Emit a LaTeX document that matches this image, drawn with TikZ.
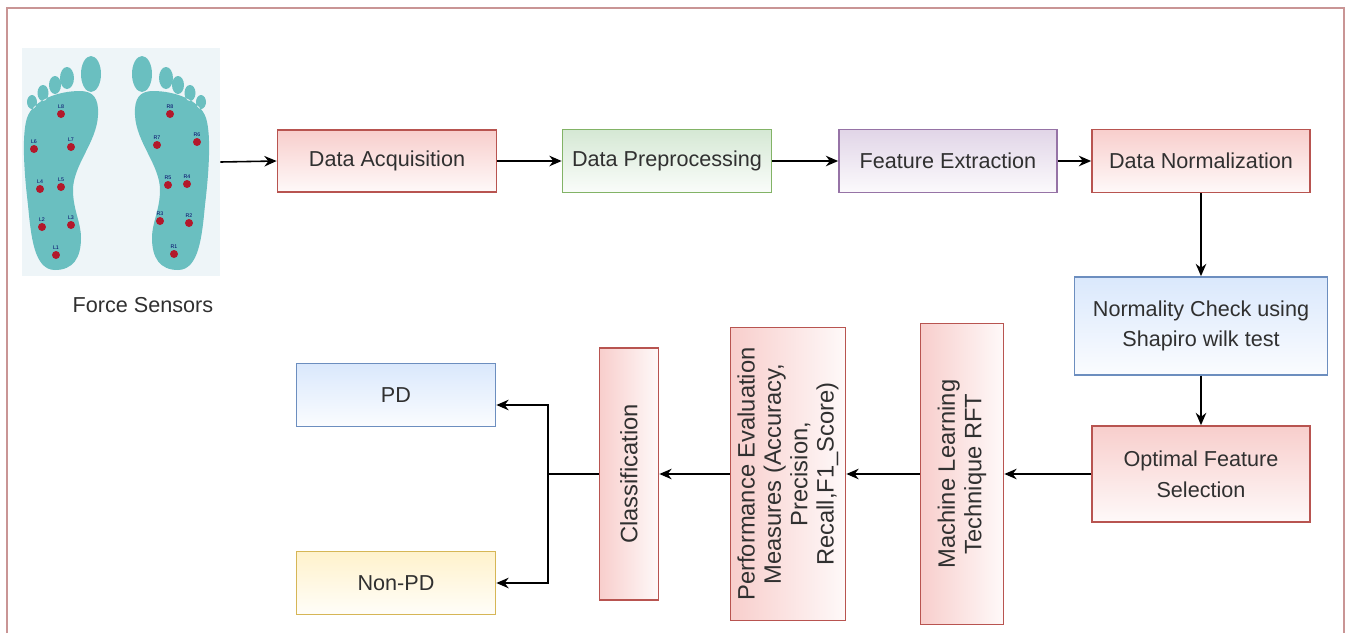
\documentclass[tikz,border=0pt]{standalone}
\usepackage{fontspec}
\setmainfont{Liberation Sans}
\usetikzlibrary{arrows.meta}

\definecolor{redfill}{HTML}{F8CECC}
\definecolor{redline}{HTML}{B85450}
\definecolor{greenfill}{HTML}{D5E8D4}
\definecolor{greenline}{HTML}{82B366}
\definecolor{purplefill}{HTML}{E1D5E7}
\definecolor{purpleline}{HTML}{9673A6}
\definecolor{bluefill}{HTML}{DAE8FC}
\definecolor{blueline}{HTML}{6C8EBF}
\definecolor{yellowfill}{HTML}{FFF2CC}
\definecolor{yellowline}{HTML}{D6B656}
\definecolor{footcol}{HTML}{6ABFC0}
\definecolor{sensorred}{HTML}{B3182B}
\definecolor{panelcol}{HTML}{EEF5F8}
\definecolor{framecol}{HTML}{C99595}
\definecolor{textgray}{HTML}{303030}

\tikzset{
  base/.style={draw=#1line, line width=1pt, align=center, text=textgray, inner sep=2pt},
  box/.style={base=#1, top color=#1fill, bottom color=#1fill!12!white,
    font=\fontsize{12.3}{17.5}\selectfont},
  upbox/.style={base=#1, left color=#1fill, right color=#1fill!12!white,
    rotate=90, font=\fontsize{13.5}{15}\selectfont},
  flow/.style={-{Stealth[length=7pt,width=6pt]}, line width=0.9pt},
  tag/.style={font=\fontsize{3}{3}\selectfont, text=blue!40!black, inner sep=0pt}
}

\newcommand{\solepath}{
  (55,270) .. controls (73,270) and (81,258) .. (81,238)
  .. controls (81,222) and (73,210) .. (73,190)
  .. controls (73,165) and (97,142) .. (98,115)
  .. controls (99,98) and (93,91) .. (80,91)
  .. controls (58,91) and (33,100) .. (27,118)
  .. controls (21,137) and (25,180) .. (28,205)
  .. controls (31,236) and (34,270) .. (55,270) -- cycle
  (91,74) ellipse (10 and 18)
  (67,78) ellipse (7 and 11)
  (55,85) ellipse (6 and 9)
  (43,93) ellipse (5.5 and 8)
  (32,102) ellipse (5 and 7)
}

\begin{document}
\begin{tikzpicture}[x=0.02cm, y=-0.02cm]
\useasboundingbox (0,0) rectangle (1346,633);
\draw[framecol, line width=1pt] (7,633) -- (7,8) -- (1344,8) -- (1344,633);

\node[fill=panelcol, minimum width=3.96cm, minimum height=4.56cm, inner sep=0pt] (feet) at (121,162) {};
\fill[footcol] \solepath;
\begin{scope}[shift={(233,0)}, xscale=-1]
\fill[footcol] \solepath;
\end{scope}
\foreach \x/\y/\l in {61/114/L8, 34/149/L6, 71/147/L7, 40/189/L4, 61/187/L5,
  42/227/L2, 71/225/L3, 56/255/L1, 170/114/R8, 157/145/R7, 197/142/R6,
  168/185/R5, 187/184/R4, 160/221/R3, 189/223/R2, 174/254/R1} {
  \fill[sensorred] (\x,\y) circle (0.08cm);
  \node[tag] at (\x,\y-7) {\l};
}
\node[font=\fontsize{12.3}{15}\selectfont, text=textgray] (sensors) at (143,305) {Force Sensors};

\node[box=red, minimum width=4.38cm, minimum height=1.24cm] (da) at (387,161) {Data Acquisition};
\node[box=green, minimum width=4.18cm, minimum height=1.26cm] (dp) at (667,161) {Data Preprocessing};
\node[box=purple, minimum width=4.36cm, minimum height=1.26cm] (fe) at (948,161) {Feature Extraction};
\node[box=red, minimum width=4.36cm, minimum height=1.26cm] (dn) at (1201,161) {Data Normalization};
\node[box=blue, minimum width=5.06cm, minimum height=1.96cm] (nc) at (1201,326) {Normality Check using\\Shapiro wilk test};
\node[box=red, minimum width=4.36cm, minimum height=1.92cm] (ofs) at (1201,474) {Optimal Feature\\Selection};
\node[upbox=red, minimum width=6.02cm, minimum height=1.66cm] (ml) at (962,474) {Machine Learning\\Technique RFT};
\node[upbox=red, minimum width=5.86cm, minimum height=2.3cm] (pe) at (788,474) {Performance Evaluation\\Measures (Accuracy,\\Precision,\\Recall,F1\_Score)};
\node[upbox=red, minimum width=5.04cm, minimum height=1.18cm] (cls) at (629,474) {Classification};
\node[box=blue, minimum width=3.98cm, minimum height=1.26cm] (pd) at (396,395) {PD};
\node[box=yellow, minimum width=3.98cm, minimum height=1.26cm] (npd) at (396,583) {Non-PD};

\draw[flow] (feet.east) -- (da.west);
\draw[flow] (da) -- (dp);
\draw[flow] (dp) -- (fe);
\draw[flow] (fe) -- (dn);
\draw[flow] (dn) -- (nc);
\draw[flow] (nc) -- (ofs);
\draw[flow] (ofs) -- (ml);
\draw[flow] (ml) -- (pe);
\draw[flow] (pe) -- (cls);
\coordinate (split) at (548,474);
\draw[line width=0.9pt] (cls) -- (split);
\draw[flow] (split) |- ([yshift=-0.2cm]pd.east);
\draw[flow] (split) |- (npd.east);

\end{tikzpicture}
\end{document}
